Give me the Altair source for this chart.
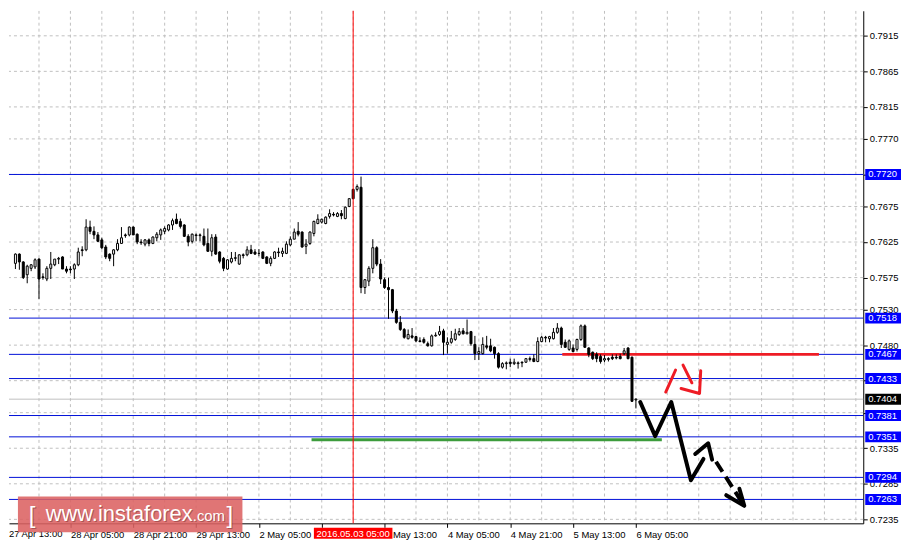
import altair as alt
import pandas as pd

# ---------------- data (H1 candles) ----------------
bar_open = [
    .7607, .7604, .7595, .7608, .7597, .7579, .7588, .7590, .7601, .7576,
    .7573, .7588, .7593, .7601, .7604, .7587, .7587, .7587, .7593, .7614,
    .7614, .7646, .7640, .7635, .7628, .7618, .7608, .7608, .7614, .7623,
    .7635, .7635, .7646, .7636, .7625, .7622, .7628, .7623, .7631, .7635,
    .7640, .7642, .7649, .7657, .7654, .7649, .7633, .7626, .7635, .7634,
    .7633, .7623, .7612, .7632, .7611, .7602, .7587, .7597, .7602, .7594,
    .7607, .7607, .7614, .7611, .7609, .7611, .7604, .7595, .7602, .7611,
    .7609, .7609, .7621, .7629, .7640, .7639, .7619, .7623, .7637, .7651,
    .7653, .7651, .7661, .7664, .7661, .7665, .7658, .7675, .7699, .7699,
    .7702, .7561, .7570, .7588, .7617, .7594, .7572, .7561, .7558, .7528,
    .7512, .7502, .7489, .7493, .7492, .7486, .7488, .7482, .7479, .7493,
    .7495, .7500, .7481, .7484, .7488, .7495, .7500, .7496, .7499, .7481,
    .7468, .7468, .7479, .7479, .7477, .7468, .7449, .7454, .7456, .7454,
    .7454, .7456, .7456, .7461, .7461, .7457, .7485, .7491, .7489, .7489,
    .7498, .7504, .7484, .7474, .7476, .7474, .7488, .7507, .7476, .7470,
    .7467, .7464, .7459, .7461, .7463, .7463, .7464, .7468, .7476, .7463,
    .7403]
bar_high = [
    .7609, .7609, .7609, .7609, .7598, .7593, .7594, .7602, .7602, .7581,
    .7591, .7611, .7601, .7604, .7605, .7591, .7591, .7595, .7617, .7619,
    .7657, .7655, .7647, .7639, .7631, .7621, .7609, .7615, .7629, .7646,
    .7637, .7647, .7647, .7637, .7629, .7629, .7630, .7633, .7639, .7644,
    .7647, .7650, .7658, .7665, .7658, .7650, .7636, .7637, .7637, .7637,
    .7644, .7644, .7636, .7636, .7612, .7604, .7601, .7611, .7611, .7608,
    .7609, .7619, .7621, .7615, .7615, .7612, .7605, .7605, .7612, .7617,
    .7617, .7626, .7633, .7644, .7653, .7640, .7629, .7640, .7655, .7664,
    .7658, .7661, .7671, .7667, .7667, .7670, .7675, .7686, .7700, .7706,
    .7717, .7573, .7591, .7629, .7619, .7601, .7575, .7575, .7559, .7531,
    .7521, .7504, .7502, .7504, .7493, .7491, .7491, .7485, .7495, .7498,
    .7507, .7503, .7491, .7500, .7503, .7504, .7504, .7516, .7500, .7493,
    .7477, .7491, .7493, .7489, .7478, .7470, .7456, .7457, .7461, .7461,
    .7457, .7457, .7461, .7464, .7467, .7491, .7493, .7493, .7493, .7504,
    .7511, .7506, .7488, .7488, .7481, .7489, .7509, .7509, .7477, .7471,
    .7470, .7467, .7466, .7463, .7467, .7467, .7468, .7476, .7477, .7464,
    .7405]
bar_low = [
    .7601, .7588, .7587, .7586, .7573, .7567, .7584, .7587, .7545, .7572,
    .7570, .7573, .7591, .7594, .7587, .7581, .7581, .7573, .7591, .7605,
    .7612, .7636, .7629, .7625, .7615, .7601, .7598, .7591, .7612, .7623,
    .7631, .7633, .7635, .7622, .7621, .7619, .7619, .7622, .7626, .7628,
    .7636, .7640, .7642, .7650, .7644, .7632, .7619, .7623, .7626, .7626,
    .7619, .7611, .7605, .7607, .7595, .7584, .7586, .7595, .7598, .7593,
    .7602, .7605, .7608, .7607, .7605, .7601, .7594, .7591, .7601, .7604,
    .7604, .7608, .7619, .7629, .7633, .7617, .7608, .7621, .7633, .7650,
    .7651, .7650, .7658, .7661, .7660, .7657, .7657, .7674, .7685, .7696,
    .7553, .7552, .7563, .7581, .7591, .7566, .7559, .7517, .7525, .7510,
    .7500, .7489, .7488, .7489, .7484, .7484, .7482, .7478, .7478, .7492,
    .7493, .7466, .7468, .7482, .7486, .7493, .7495, .7495, .7479, .7459,
    .7459, .7467, .7474, .7470, .7461, .7447, .7447, .7446, .7449, .7452,
    .7447, .7449, .7455, .7457, .7456, .7456, .7484, .7484, .7484, .7488,
    .7496, .7476, .7476, .7472, .7470, .7471, .7486, .7476, .7463, .7459,
    .7456, .7454, .7456, .7457, .7459, .7460, .7460, .7466, .7460, .7400,
    .7391]
bar_close = [
    .7606, .7595, .7608, .7597, .7575, .7591, .7593, .7600, .7573, .7575,
    .7588, .7594, .7601, .7602, .7587, .7584, .7586, .7593, .7611, .7613,
    .7646, .7640, .7635, .7626, .7617, .7604, .7602, .7614, .7623, .7631,
    .7634, .7646, .7635, .7625, .7624, .7628, .7623, .7632, .7636, .7642,
    .7644, .7649, .7655, .7651, .7647, .7633, .7625, .7636, .7634, .7635,
    .7621, .7612, .7631, .7608, .7598, .7588, .7600, .7602, .7603, .7607,
    .7606, .7614, .7609, .7608, .7609, .7602, .7595, .7602, .7611, .7610,
    .7612, .7622, .7629, .7639, .7636, .7618, .7622, .7639, .7654, .7657,
    .7657, .7660, .7665, .7663, .7665, .7662, .7674, .7686, .7686, .7703,
    .7561, .7572, .7588, .7617, .7594, .7573, .7561, .7558, .7528, .7512,
    .7502, .7491, .7495, .7491, .7486, .7485, .7484, .7479, .7493, .7494,
    .7499, .7484, .7484, .7489, .7496, .7499, .7496, .7498, .7482, .7468,
    .7471, .7481, .7477, .7472, .7468, .7449, .7454, .7455, .7454, .7456,
    .7455, .7455, .7461, .7460, .7457, .7485, .7491, .7490, .7492, .7498,
    .7504, .7481, .7477, .7486, .7471, .7488, .7507, .7477, .7467, .7461,
    .7461, .7457, .7461, .7460, .7461, .7462, .7461, .7472, .7461, .7401,
    .7404]
assert len(bar_open) == len(bar_high) == len(bar_low) == len(bar_close) == 161
bar_index = list(range(1, len(bar_open) + 1))

price_ticks = [0.7915, 0.7865, 0.7815, 0.7770, 0.7720, 0.7675, 0.7625, 0.7575,
               0.7530, 0.7480, 0.7430, 0.7385, 0.7335, 0.7285, 0.7235]
price_ticks_hidden = [0.7720, 0.7430, 0.7385]     # covered by the level boxes
time_tick_bars = [17, 33, 49, 65, 81, 97, 113, 129, 145, 161]
time_tick_labels = ["28 Apr 05:00", "28 Apr 21:00", "29 Apr 13:00", "2 May 05:00",
                    "", "3 May 13:00", "4 May 05:00", "4 May 21:00",
                    "5 May 13:00", "6 May 05:00"]
first_time_label = "27 Apr 13:00"
time_grid_bars = list(range(9, 218, 8))

blue_levels = [0.7720, 0.7518, 0.7467, 0.7433, 0.7381, 0.7351, 0.7294, 0.7263]
bid_level = [0.7404]
red_level = {"k": [142.25], "k2": [207.6], "p": [0.7467]}
green_level = {"k": [78.4], "k2": [167.6], "p": [0.7347]}
cross_bar = [89]
cross_text = "2016.05.03 05:00"

path_seg = ["a"] * 5 + ["b"] * 3 + ["d"] * 3
path_k = [162.1, 165.9, 170.0, 175.0, 178.2, 176.1, 179.4, 180.4, 184.0, 188.6, 187.35]
path_p = [0.7400, 0.7352, 0.7400, 0.7290, 0.7320, 0.7327, 0.7342, 0.7319, 0.7269, 0.7254, 0.7278]
dash_k = [181.4, 188.6]
dash_p = [0.7316, 0.7254]
red_seg = ["r1", "r1", "r2", "r2", "r3", "r3", "r3"]
red_k = [168.6, 171.1, 173.0, 175.25, 172.5, 177.2, 177.5]
red_p = [0.7414, 0.7445, 0.7452, 0.7427, 0.7419, 0.7412, 0.7444]

# ---------------- chart ----------------
FONT = "Liberation Sans"
W, H = 860, 516
xs = alt.Scale(domain=[2.625, 217.625], nice=False, zero=False)
ys = alt.Scale(domain=[0.72294, 0.79502], nice=False, zero=False)

labels_js = "[" + ",".join("'%s'" % s for s in time_tick_labels) + "]"
hidden_js = "[" + ",".join(repr(v) for v in price_ticks_hidden) + "]"
x_axis = alt.Axis(values=time_tick_bars, labelExpr=labels_js + "[round((datum.value - 17) / 16)]",
                  orient="bottom", grid=False, title=None, domainColor="black", domainWidth=1,
                  tickColor="black", tickSize=4, labelAlign="left", labelBaseline="top",
                  labelPadding=2, labelFont=FONT, labelFontSize=9.5, labelColor="black",
                  labelFlush=False, labelOverlap=False)
y_axis = alt.Axis(values=price_ticks,
                  labelExpr="indexof(" + hidden_js + ", datum.value) >= 0 ? '' : format(datum.value, '.4f')",
                  orient="right", grid=False, title=None,
                  domainColor="black", domainWidth=1, tickColor="black", tickSize=4,
                  labelAlign="left", labelBaseline="middle", labelPadding=2, labelFont=FONT,
                  labelFontSize=9.5, labelColor="black", labelFlush=False, labelOverlap=False)


def X(f="k"):
    return alt.X(f + ":Q", scale=xs, axis=x_axis)


def Y(f="p"):
    return alt.Y(f + ":Q", scale=ys, axis=y_axis)


candles = pd.DataFrame({"k": bar_index, "o": bar_open, "h": bar_high, "l": bar_low, "c": bar_close})
candles = candles[candles.k >= 3]

hgrid = alt.Chart(pd.DataFrame({"p": price_ticks})).mark_rule(
    color="#c0c0c0", strokeWidth=1, strokeDash=[3, 3]).encode(y=Y())
vgrid = alt.Chart(pd.DataFrame({"k": time_grid_bars})).mark_rule(
    color="#c0c0c0", strokeWidth=1, strokeDash=[3, 3], clip=True).encode(x=X())

green = alt.Chart(pd.DataFrame(green_level)).mark_rule(
    color="#3c9c3c", strokeWidth=3).encode(x=X(), x2="k2:Q", y=Y())
blue = alt.Chart(pd.DataFrame({"p": blue_levels})).mark_rule(
    color="#0010d8", strokeWidth=1).encode(y=Y())
bid = alt.Chart(pd.DataFrame({"p": bid_level})).mark_rule(
    color="#c0c0c0", strokeWidth=1).encode(y=Y())
red = alt.Chart(pd.DataFrame(red_level)).mark_rule(
    color="#ee1c25", strokeWidth=3).encode(x=X(), x2="k2:Q", y=Y())

wick = alt.Chart(candles).mark_rule(color="black", strokeWidth=1, clip=True).encode(
    x=X(), y=Y("l"), y2="h:Q")
body = alt.Chart(candles).mark_bar(width=2, stroke="black", strokeWidth=1, clip=True).encode(
    x=X(), y=Y("o"), y2="c:Q",
    fill=alt.condition("datum.c >= datum.o", alt.value("white"), alt.value("black")))

cross = alt.Chart(pd.DataFrame({"k": cross_bar})).mark_rule(
    color="#ff0000", strokeWidth=1).encode(x=X())

path_df = pd.DataFrame({"seg": path_seg, "k": path_k, "p": path_p, "i": list(range(len(path_k)))})
path = alt.Chart(path_df).mark_line(color="black", strokeWidth=4, strokeCap="round",
                                    strokeJoin="round").encode(
    x=X(), y=Y(), detail="seg:N", order="i:Q")
dash = alt.Chart(pd.DataFrame({"k": dash_k, "p": dash_p})).mark_line(
    color="black", strokeWidth=4, strokeDash=[12, 6]).encode(x=X(), y=Y())
red_df = pd.DataFrame({"seg": red_seg, "k": red_k, "p": red_p, "i": list(range(len(red_k)))})
red_arrow = alt.Chart(red_df).mark_line(color="#ee1c25", strokeWidth=3, strokeCap="round",
                                        strokeJoin="round").encode(
    x=X(), y=Y(), detail="seg:N", order="i:Q")

lab_df = pd.DataFrame({"p": blue_levels + bid_level, "bg": ["blue"] * len(blue_levels) + ["black"]})
lab_box = alt.Chart(lab_df).transform_calculate(
    p1="datum.p + 0.00077", p2="datum.p - 0.00077").mark_rect().encode(
    x=alt.value(862), x2=alt.value(898), y=Y("p1"), y2="p2:Q",
    color=alt.Color("bg:N", scale=alt.Scale(domain=["blue", "black"], range=["#0000ff", "#000000"]),
                    legend=None))
lab_txt = alt.Chart(lab_df).mark_text(align="left", baseline="middle", color="white",
                                      font=FONT, fontSize=9.5).encode(
    x=alt.value(865), y=Y(), text=alt.Text("p:Q", format=".4f"))

cross_df = pd.DataFrame({"k": cross_bar, "t": [cross_text]})
cross_box = alt.Chart(cross_df).transform_calculate(
    k1="datum.k - 10", k2="datum.k + 10").mark_rect(color="#ff0000").encode(
    x=X("k1"), x2="k2:Q", y=alt.value(520.5), y2=alt.value(531.5))
cross_txt = alt.Chart(cross_df).mark_text(align="center", baseline="middle", color="white",
                                          font=FONT, fontSize=9.5).encode(
    x=X(), y=alt.value(526.5), text="t:N")

first_lab = alt.Chart(pd.DataFrame({"t": [first_time_label]})).mark_text(
    align="left", baseline="top", color="black", font=FONT, fontSize=9.5).encode(
    x=alt.value(0), y=alt.value(522), text="t:N")

# watermark
one = pd.DataFrame({"t": [""]})
wm_box = alt.Chart(one).mark_rect(color="#dc6262", opacity=0.88).encode(
    x=alt.value(9), x2=alt.value(235), y=alt.value(489), y2=alt.value(525))
wm_parts = []
for txt, xx, yy, fs in [("[", 20, 516, 24), ("www.instaforex", 37, 514, 22),
                        (".com", 185, 514, 15), ("]", 219, 516, 24)]:
    wm_parts.append(alt.Chart(one).mark_text(text=txt, align="left", baseline="alphabetic",
                                             color="#6a2a2a", opacity=0.45, font=FONT,
                                             fontSize=fs).encode(
        x=alt.value(xx + 1), y=alt.value(yy + 1)))
    wm_parts.append(alt.Chart(one).mark_text(text=txt, align="left", baseline="alphabetic",
                                             color="white", font=FONT, fontSize=fs).encode(
        x=alt.value(xx), y=alt.value(yy)))

chart = alt.layer(
    hgrid, vgrid, green, blue, bid, red, wick, body, cross, path, dash, red_arrow,
    lab_box, lab_txt, first_lab, wm_box, *wm_parts, cross_box, cross_txt
).properties(width=W, height=H, padding=0, background="white").configure_view(stroke=None)

chart.save("out.html", embed_options={"renderer": "svg", "actions": False})
